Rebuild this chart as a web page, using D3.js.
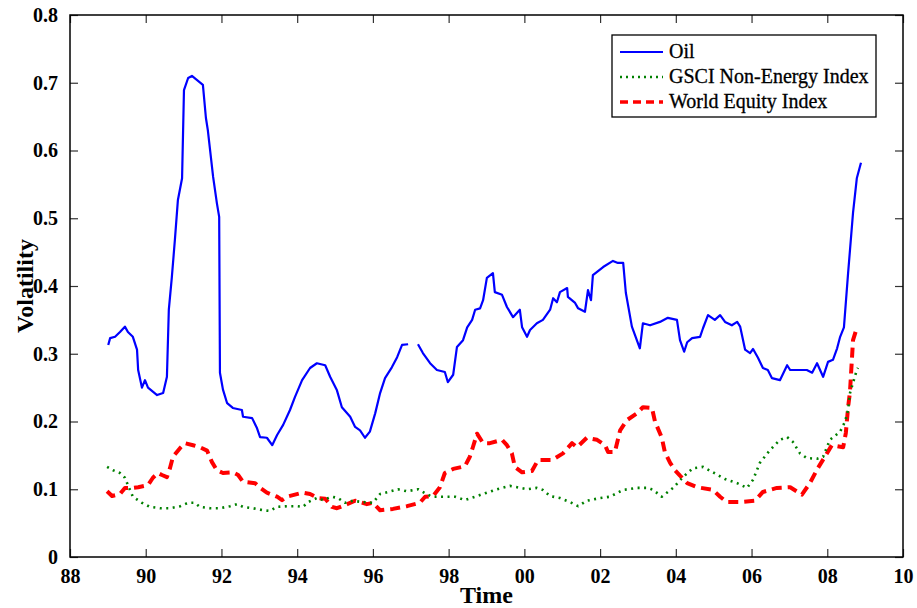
<!DOCTYPE html>
<html>
<head>
<meta charset="utf-8">
<script src="https://cdn.jsdelivr.net/npm/d3@7"></script>
<style>
  html, body { margin: 0; padding: 0; background: #fff; }
  svg { display: block; }
</style>
</head>
<body>
<svg id="chart" width="917" height="608"></svg>
<script>
// ---------------- DATA ----------------
const xTickValues = [1988, 1990, 1992, 1994, 1996, 1998, 2000, 2002, 2004, 2006, 2008, 2010];
const xTickLabels = ["88", "90", "92", "94", "96", "98", "00", "02", "04", "06", "08", "10"];
const yTickValues = [0, 0.1, 0.2, 0.3, 0.4, 0.5, 0.6, 0.7, 0.8];
const yTickLabels = ["0", "0.1", "0.2", "0.3", "0.4", "0.5", "0.6", "0.7", "0.8"];
const seriesNames = ["Oil", "GSCI Non-Energy Index", "World Equity Index"];

// Oil (null = gap in the series)
const oilYears = [1989.01,1989.06,1989.19,1989.32,1989.45,1989.53,1989.66,1989.77,1989.80,1989.90,1989.98,1990.06,1990.30,1990.46,1990.56,1990.61,1990.69,1990.77,1990.85,1990.96,1991.01,1991.12,1991.22,1991.51,1991.59,1991.64,1991.78,1991.88,1991.94,1991.96,1992.04,1992.15,1992.30,1992.54,1992.57,1992.81,1992.94,1993.02,1993.20,1993.34,1993.47,1993.63,1993.81,1993.94,1994.13,1994.34,1994.52,1994.74,1994.87,1995.05,1995.18,1995.40,1995.53,1995.66,1995.79,1995.92,1996.06,1996.19,1996.32,1996.50,1996.64,1996.77,1996.93,1997.05,1997.19,1997.32,1997.51,1997.69,1997.90,1997.98,1998.12,1998.22,1998.38,1998.49,1998.62,1998.70,1998.83,1998.91,1999.01,1999.17,1999.22,1999.41,1999.54,1999.70,1999.88,1999.94,2000.07,2000.15,2000.33,2000.49,2000.68,2000.76,2000.86,2000.94,2001.13,2001.15,2001.34,2001.42,2001.60,2001.68,2001.76,2001.81,2001.92,2002.08,2002.34,2002.47,2002.61,2002.68,2002.84,2003.05,2003.13,2003.32,2003.58,2003.79,2004.03,2004.11,2004.22,2004.30,2004.43,2004.64,2004.72,2004.85,2005.03,2005.17,2005.30,2005.48,2005.62,2005.70,2005.83,2005.96,2006.04,2006.17,2006.30,2006.43,2006.54,2006.75,2006.94,2007.02,2007.15,2007.46,2007.60,2007.73,2007.89,2008.02,2008.15,2008.26,2008.34,2008.44,2008.55,2008.68,2008.78,2008.89];
const oilValues = [0.313,0.323,0.325,0.332,0.340,0.332,0.325,0.306,0.276,0.250,0.261,0.250,0.239,0.242,0.266,0.365,0.413,0.468,0.527,0.559,0.689,0.707,0.710,0.697,0.648,0.630,0.561,0.522,0.502,0.272,0.247,0.227,0.220,0.217,0.207,0.205,0.190,0.177,0.176,0.165,0.180,0.195,0.217,0.236,0.261,0.279,0.286,0.283,0.266,0.246,0.221,0.207,0.192,0.187,0.176,0.185,0.212,0.242,0.264,0.280,0.295,0.313,0.314,null,0.314,0.301,0.286,0.276,0.273,0.258,0.269,0.310,0.320,0.339,0.350,0.365,0.367,0.379,0.412,0.419,0.391,0.387,0.369,0.354,0.365,0.339,0.325,0.335,0.345,0.350,0.365,0.382,0.376,0.391,0.397,0.384,0.375,0.367,0.362,0.394,0.379,0.416,0.421,0.428,0.437,0.434,0.434,0.390,0.340,0.308,0.345,0.342,0.347,0.353,0.350,0.320,0.303,0.317,0.323,0.325,0.338,0.357,0.350,0.357,0.347,0.342,0.347,0.340,0.306,0.301,0.307,0.294,0.279,0.276,0.264,0.261,0.283,0.276,0.276,0.276,0.272,0.286,0.266,0.288,0.291,0.308,0.325,0.339,0.419,0.508,0.559,0.582];

// GSCI Non-Energy Index
const gsciYears = [1988.98,1989.14,1989.32,1989.45,1989.53,1989.66,1989.90,1990.11,1990.38,1990.64,1990.91,1991.12,1991.30,1991.43,1991.70,1991.96,1992.23,1992.41,1992.57,1992.83,1993.10,1993.28,1993.47,1993.73,1994.00,1994.15,1994.29,1994.52,1994.68,1994.92,1995.08,1995.26,1995.47,1995.74,1996.00,1996.19,1996.40,1996.66,1996.90,1997.19,1997.38,1997.56,1997.96,1998.17,1998.43,1998.70,1998.96,1999.28,1999.62,1999.81,2000.07,2000.33,2000.49,2000.68,2000.94,2001.21,2001.42,2001.65,2002.00,2002.26,2002.61,2002.97,2003.27,2003.40,2003.63,2003.93,2004.19,2004.45,2004.72,2004.98,2005.30,2005.62,2005.88,2006.04,2006.22,2006.49,2006.75,2006.94,2007.09,2007.28,2007.46,2007.73,2007.89,2008.07,2008.34,2008.47,2008.55,2008.60,2008.78,2008.81];
const gsciValues = [0.133,0.128,0.124,0.117,0.106,0.089,0.080,0.074,0.072,0.072,0.075,0.080,0.080,0.074,0.072,0.072,0.075,0.078,0.074,0.072,0.069,0.068,0.074,0.075,0.075,0.074,0.081,0.087,0.084,0.089,0.087,0.080,0.083,0.081,0.080,0.093,0.096,0.100,0.097,0.100,0.094,0.089,0.089,0.089,0.084,0.089,0.094,0.100,0.105,0.103,0.100,0.102,0.099,0.090,0.087,0.081,0.075,0.083,0.087,0.089,0.099,0.102,0.102,0.099,0.089,0.102,0.118,0.131,0.133,0.125,0.115,0.109,0.102,0.114,0.139,0.158,0.173,0.177,0.170,0.153,0.146,0.145,0.148,0.173,0.185,0.200,0.217,0.242,0.276,0.279];

// World Equity Index
const equityYears = [1988.98,1989.11,1989.32,1989.45,1989.66,1989.80,1990.06,1990.19,1990.32,1990.43,1990.56,1990.64,1990.72,1990.91,1991.04,1991.25,1991.43,1991.62,1991.75,1991.88,1992.04,1992.30,1992.44,1992.57,1992.89,1993.02,1993.20,1993.47,1993.60,1993.73,1993.94,1994.15,1994.34,1994.55,1994.74,1994.92,1995.05,1995.32,1995.53,1995.84,1996.00,1996.19,1996.53,1996.90,1997.24,1997.38,1997.59,1997.77,1997.90,1998.12,1998.43,1998.56,1998.64,1998.75,1998.91,1999.09,1999.41,1999.54,1999.67,1999.75,1999.94,2000.20,2000.36,2000.73,2001.02,2001.26,2001.39,2001.65,2001.92,2002.13,2002.21,2002.39,2002.53,2002.71,2002.97,2003.13,2003.37,2003.45,2003.63,2003.71,2003.85,2003.98,2004.11,2004.30,2004.56,2004.98,2005.17,2005.35,2005.70,2006.09,2006.30,2006.67,2007.02,2007.33,2007.54,2007.75,2007.99,2008.12,2008.42,2008.49,2008.55,2008.60,2008.68,2008.78];
const equityValues = [0.097,0.090,0.093,0.102,0.102,0.103,0.106,0.117,0.124,0.121,0.118,0.131,0.148,0.161,0.168,0.165,0.162,0.157,0.140,0.128,0.124,0.125,0.121,0.111,0.109,0.102,0.095,0.089,0.084,0.089,0.092,0.095,0.093,0.087,0.086,0.074,0.072,0.078,0.083,0.078,0.080,0.069,0.071,0.075,0.080,0.089,0.090,0.103,0.124,0.130,0.134,0.148,0.162,0.182,0.168,0.168,0.173,0.165,0.153,0.133,0.125,0.127,0.143,0.143,0.153,0.168,0.162,0.176,0.173,0.165,0.155,0.155,0.187,0.202,0.212,0.221,0.220,0.200,0.176,0.155,0.139,0.128,0.120,0.109,0.103,0.099,0.089,0.081,0.081,0.083,0.096,0.102,0.103,0.092,0.109,0.131,0.153,0.165,0.162,0.183,0.221,0.244,0.320,0.338];

// ---------------- CHART ----------------
const W = 917, H = 608;
const margin = { left: 70, right: 14, top: 15, bottom: 51 };
const iw = W - margin.left - margin.right;
const ih = H - margin.top - margin.bottom;
const serif = "'Liberation Serif', 'Times New Roman', serif";

const svg = d3.select("#chart");
const g = svg.append("g").attr("transform", `translate(${margin.left},${margin.top})`);

const x = d3.scaleLinear().domain([1988, 2010]).range([0, iw]);
const y = d3.scaleLinear().domain([0, 0.8]).range([ih, 0]);

const xFmt = v => xTickLabels[xTickValues.indexOf(v)];
const yFmt = v => yTickLabels[yTickValues.findIndex(t => Math.abs(t - v) < 1e-9)];

function styleAxis(sel) {
  sel.select(".domain").remove();
  sel.selectAll(".tick line").attr("stroke", "#333").attr("stroke-width", 1.2);
  sel.selectAll(".tick text")
    .attr("font-family", serif).attr("font-weight", "bold")
    .attr("font-size", 20).attr("fill", "#000");
}

// bottom axis (ticks inward)
g.append("g").attr("transform", `translate(0,${ih})`)
  .call(d3.axisBottom(x).tickValues(xTickValues).tickFormat(xFmt).tickSizeInner(-8).tickSizeOuter(0).tickPadding(12))
  .call(styleAxis);
// top axis ticks only
g.append("g")
  .call(d3.axisTop(x).tickValues(xTickValues).tickFormat("").tickSizeInner(-8).tickSizeOuter(0))
  .call(styleAxis);
// left axis
g.append("g")
  .call(d3.axisLeft(y).tickValues(yTickValues).tickFormat(yFmt).tickSizeInner(-8).tickSizeOuter(0).tickPadding(12))
  .call(styleAxis);
// right axis ticks only
g.append("g").attr("transform", `translate(${iw},0)`)
  .call(d3.axisRight(y).tickValues(yTickValues).tickFormat("").tickSizeInner(-8).tickSizeOuter(0))
  .call(styleAxis);

// frame
g.append("rect").attr("x", 0).attr("y", 0).attr("width", iw).attr("height", ih)
  .attr("fill", "none").attr("stroke", "#000").attr("stroke-width", 1.5);

// series
const series = [
  { name: seriesNames[0], years: oilYears, values: oilValues, color: "#0000ff", width: 2.2, dash: null },
  { name: seriesNames[1], years: gsciYears, values: gsciValues, color: "#008000", width: 2.6, dash: "2,4.5" },
  { name: seriesNames[2], years: equityYears, values: equityValues, color: "#ff0000", width: 4, dash: "10,6" }
];

const line = d3.line()
  .defined(d => d.v !== null)
  .x(d => x(d.t)).y(d => y(d.v));

const drawOrder = [2, 1, 0];
drawOrder.forEach(i => {
  const s = series[i];
  const pts = s.years.map((t, k) => ({ t: t, v: s.values[k] }));
  g.append("path").datum(pts)
    .attr("d", line)
    .attr("fill", "none")
    .attr("stroke", s.color)
    .attr("stroke-width", s.width)
    .attr("stroke-linejoin", "round")
    .attr("stroke-dasharray", s.dash);
});

// axis titles
svg.append("text")
  .attr("x", margin.left + iw / 2).attr("y", 603)
  .attr("text-anchor", "middle")
  .attr("font-family", serif).attr("font-weight", "bold").attr("font-size", 24)
  .text("Time");
svg.append("text")
  .attr("transform", `translate(33,${margin.top + ih / 2}) rotate(-90)`)
  .attr("text-anchor", "middle")
  .attr("font-family", serif).attr("font-weight", "bold").attr("font-size", 24)
  .text("Volatility");

// legend
const lg = svg.append("g").attr("transform", "translate(612,35)");
lg.append("rect").attr("x", 0).attr("y", 0).attr("width", 264).attr("height", 82)
  .attr("fill", "#fff").attr("stroke", "#000").attr("stroke-width", 1.3);
series.forEach((s, i) => {
  const cy = 17 + i * 25;
  lg.append("line")
    .attr("x1", 8).attr("x2", 51).attr("y1", cy).attr("y2", cy)
    .attr("stroke", s.color)
    .attr("stroke-width", i === 2 ? 3.5 : (i === 1 ? 2.4 : 2))
    .attr("stroke-dasharray", i === 2 ? "8,5" : (i === 1 ? "2,4" : null));
  lg.append("text")
    .attr("x", 57).attr("y", cy + 6)
    .attr("font-family", serif).attr("font-size", 20).attr("fill", "#000")
    .attr("stroke", "#000").attr("stroke-width", 0.3)
    .text(s.name);
});
</script>
</body>
</html>
